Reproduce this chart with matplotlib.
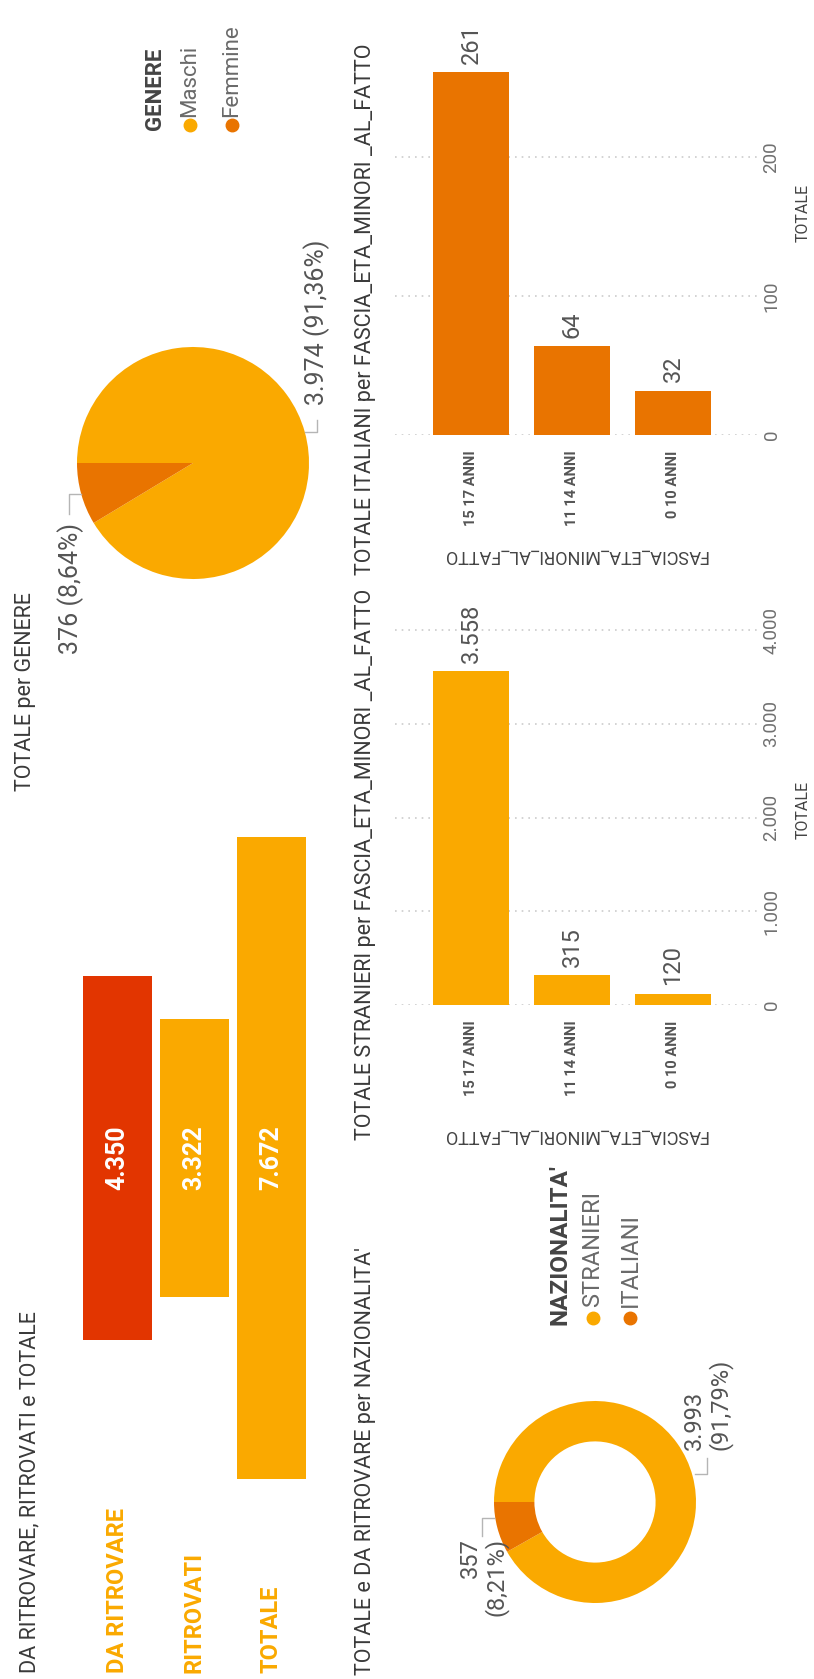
import matplotlib.pyplot as plt
from matplotlib.lines import Line2D
import numpy as np

plt.rcParams['font.family'] = ['Roboto', 'DejaVu Sans']

# colours
YELLOW = '#FAA900'
RED = '#E23500'
ORANGE = '#E97400'
DARK = '#3a3a3a'
GREY = '#555555'
LEG = '#6a6a6a'

# data
funnel_labels = ['DA RITROVARE', 'RITROVATI', 'TOTALE']
funnel_values = [4350, 3322, 7672]

gender_labels = ['Maschi', 'Femmine']
gender_values = [3974, 376]
gender_pct = ['91,36%', '8,64%']

nat_labels = ['STRANIERI', 'ITALIANI']
nat_values = [3993, 357]
nat_pct = ['91,79%', '8,21%']

age_bands = ['15 17 ANNI', '11 14 ANNI', '0 10 ANNI']
stranieri_age = [3558, 315, 120]
italiani_age = [261, 64, 32]

W, H = 814, 1679
fig = plt.figure(figsize=(W / 100, H / 100), dpi=100)
fig.patch.set_facecolor('white')


def fx(px):
    return px / W


def fy(py):
    return 1 - py / H


def axes_px(left, top, width, height):
    return fig.add_axes([fx(left), fy(top + height), width / W, height / H])


def vtext(x, y, s, va='center', **kw):
    fig.text(fx(x), fy(y), s, rotation=90, ha='center', va=va, **kw)


def it_num(v):
    return f'{v:,}'.replace(',', '.')


def leader(points):
    xs = [fx(p[0]) for p in points]
    ys = [fy(p[1]) for p in points]
    fig.add_artist(Line2D(xs, ys, transform=fig.transFigure,
                          color='#b5b5b5', lw=1))


def dot(x, y, color):
    fig.add_artist(Line2D([fx(x)], [fy(y)], transform=fig.transFigure,
                          marker='o', markersize=9, color=color, lw=0))


def mid_angles(values):
    fr = np.array(values) / sum(values)
    ends = 180 - 360 * np.cumsum(fr)
    return ends + 180 * fr


def edge(cx, cy, r, ang):
    a = np.radians(ang)
    return cx + r * np.cos(a), cy - r * np.sin(a)


# ---- titles ----
vtext(30, 1673, 'DA RITROVARE, RITROVATI e TOTALE', va='bottom',
      fontsize=15.5, color=DARK)
vtext(26, 791, 'TOTALE per GENERE', va='bottom', fontsize=15.5, color=DARK)
vtext(366, 1675, "TOTALE e DA RITROVARE per NAZIONALITA'", va='bottom',
      fontsize=15.5, color=DARK)
vtext(366, 1140, 'TOTALE STRANIERI per FASCIA_ETA_MINORI _AL_FATTO',
      va='bottom', fontsize=15.5, color=DARK)
vtext(366, 575, 'TOTALE ITALIANI per FASCIA_ETA_MINORI _AL_FATTO',
      va='bottom', fontsize=15.5, color=DARK)

# ---- funnel ----
ax_f = axes_px(79, 837, 231, 642)
half = np.array(funnel_values) / 2
ax_f.bar(range(3), funnel_values, bottom=-half, width=0.9,
         color=[RED, YELLOW, YELLOW])
ax_f.set_xlim(-0.5, 2.5)
ax_f.set_ylim(-max(funnel_values) / 2, max(funnel_values) / 2)
ax_f.axis('off')
for i, v in enumerate(funnel_values):
    ax_f.text(i, 0, it_num(v), rotation=90, ha='center', va='center',
              color='white', fontsize=18, fontweight='bold')
for i, lab in enumerate(funnel_labels):
    vtext(79 + 77 * (i + 0.5), 1673, lab, va='bottom', fontsize=17,
          fontweight='bold', color=YELLOW)

# ---- pie: genere ----
pcx, pcy, pr = 193, 463, 116
ax_p = axes_px(pcx - pr, pcy - pr, 2 * pr, 2 * pr)
ax_p.pie(gender_values, colors=[YELLOW, ORANGE], startangle=180,
         counterclock=False, wedgeprops=dict(linewidth=0))
ax_p.set_xlim(-1, 1)
ax_p.set_ylim(-1, 1)

m = mid_angles(gender_values)
ex, ey = edge(pcx, pcy, pr, m[0])
leader([(ex, ey), (ex + 12, ey), (ex + 12, ey - 12)])
vtext(ex + 12, ey - 27, f'{it_num(gender_values[0])} ({gender_pct[0]})',
      va='bottom', fontsize=18, color=GREY)
ex, ey = edge(pcx, pcy, pr, m[1])
leader([(ex, ey), (ex - 12, ey), (ex - 12, ey + 20)])
vtext(ex - 11, ey + 29, f'{it_num(gender_values[1])} ({gender_pct[1]})',
      va='top', fontsize=18, color=GREY)

# legend genere
vtext(155, 130, 'GENERE', va='bottom', fontsize=16, fontweight='bold',
      color='#444444')
for x, lab, col in zip([190, 232], gender_labels, [YELLOW, ORANGE]):
    dot(x, 125, col)
    vtext(x, 117, lab, va='bottom', fontsize=16, color=LEG)

# ---- donut: nazionalita ----
dcx, dcy, dr = 595, 1502, 101
ax_d = axes_px(dcx - dr, dcy - dr, 2 * dr, 2 * dr)
ax_d.pie(nat_values, colors=[YELLOW, ORANGE], startangle=180,
         counterclock=False, wedgeprops=dict(width=0.4, linewidth=0))
ax_d.set_xlim(-1, 1)
ax_d.set_ylim(-1, 1)

m = mid_angles(nat_values)
ex, ey = edge(dcx, dcy, dr, m[0])
leader([(ex + 2, ey - 2), (ex + 14, ey - 2), (ex + 14, ey - 18)])
fig.text(fx(ex + 15), fy(1450), f'{it_num(nat_values[0])}\n({nat_pct[0]})',
         rotation=90, ha='center', va='bottom', multialignment='left',
         fontsize=17, color=GREY, linespacing=1.1)
ex, ey = edge(dcx, dcy, dr, m[1])
leader([(ex - 3, ey - 10), (ex - 15, ey - 10), (ex - 15, ey + 8)])
fig.text(fx(484), fy(1538), f'{it_num(nat_values[1])}\n({nat_pct[1]})',
         rotation=90, ha='center', va='top', multialignment='right',
         fontsize=17, color=GREY, linespacing=1.1)

# legend nazionalita
vtext(560, 1325, "NAZIONALITA'", va='bottom', fontsize=17.5,
      fontweight='bold', color='#444444')
for x, lab, col in zip([593, 630], nat_labels, [YELLOW, ORANGE]):
    dot(x, 1318, col)
    vtext(x, 1307, lab, va='bottom', fontsize=17, color=LEG)


# ---- column charts by age band ----
def age_chart(top, base, values, color, ymax, ticks, ylab_y, xlab_y):
    ax = axes_px(395, top, 362, base - top)
    ax.bar(range(3), values, width=0.75, color=color, zorder=2)
    ax.set_xlim(-0.752, 2.832)
    ax.set_ylim(0, ymax)
    ax.set_yticks(ticks)
    ax.set_yticklabels([it_num(t) for t in ticks], rotation=90,
                       va='center', ha='left')
    ax.yaxis.tick_right()
    ax.tick_params(axis='y', length=0, pad=4, labelsize=13.5,
                   labelcolor='#707070')
    ax.set_xticks(range(3))
    ax.set_xticklabels(age_bands, rotation=90, ha='center', va='top',
                       fontweight='semibold')
    ax.tick_params(axis='x', length=0, pad=11, labelsize=10.5,
                   labelcolor=GREY)
    ax.grid(axis='y', color='#cccccc', linestyle=(0, (1, 3)),
            linewidth=1.2, zorder=0)
    for s in ax.spines.values():
        s.set_visible(False)
    ax.yaxis.set_label_position('right')
    ax.set_ylabel('TOTALE', rotation=90, fontsize=11.5, color='#444444')
    ax.yaxis.label.set_va('center')
    ax.yaxis.set_label_coords((803 - 395) / 362, (base - ylab_y) / (base - top))
    ax.set_xlabel('FASCIA_ETA_MINORI_AL_FATTO', rotation=180, fontsize=13,
                  color='#444444')
    ax.xaxis.label.set_va('center')
    ax.xaxis.set_label_coords((575 - 395) / 362, (base - xlab_y) / (base - top))
    for i, v in enumerate(values):
        ax.annotate(it_num(v), (i, v), xytext=(0, 6),
                    textcoords='offset points', rotation=90, ha='center',
                    va='bottom', fontsize=17, color=GREY)
    return ax


age_chart(20, 435, italiani_age, ORANGE, (435 - 20) / 1.39,
          [0, 100, 200], 213, 555)
age_chart(590, 1005, stranieri_age, YELLOW, (1005 - 590) / 0.09375,
          [0, 1000, 2000, 3000, 4000], 810, 1135)

fig.savefig('out.png', dpi=100, facecolor='white')
